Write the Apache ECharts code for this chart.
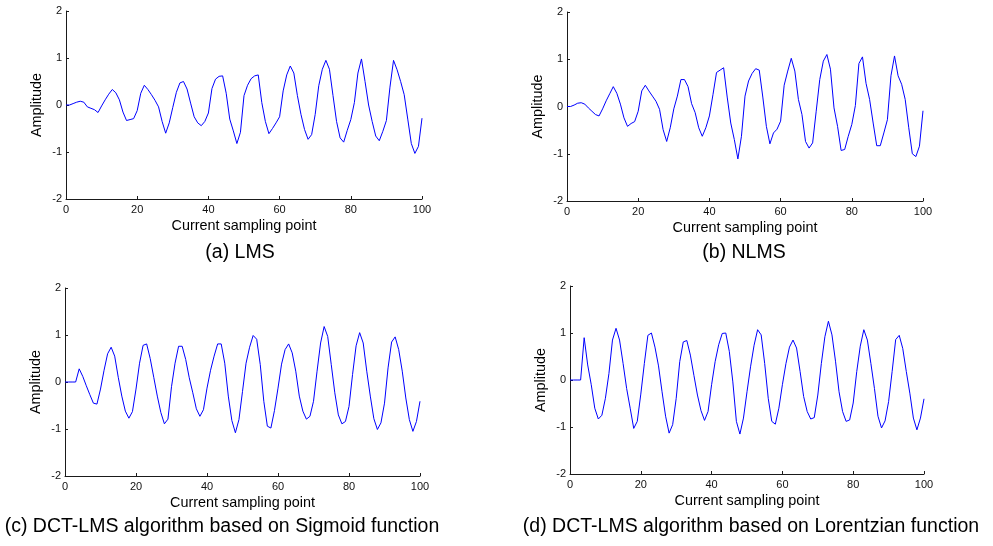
<!DOCTYPE html>
<html>
<head>
<meta charset="utf-8">
<script src="https://cdn.jsdelivr.net/npm/echarts@6/dist/echarts.min.js"></script>
<style>html,body{margin:0;padding:0;background:#fff;}#c{width:993px;height:546px;}</style>
</head>
<body>
<div id="c"></div>
<script>
// Sample values, x = 0..100
const lmsValues = [0,0,0.03,0.06,0.08,0.06,-0.04,-0.07,-0.1,-0.16,-0.02,0.11,0.23,0.33,0.26,0.11,-0.15,-0.33,-0.31,-0.29,-0.12,0.25,0.42,0.33,0.22,0.1,-0.04,-0.35,-0.6,-0.38,-0.05,0.27,0.47,0.5,0.34,0.04,-0.25,-0.38,-0.44,-0.35,-0.17,0.35,0.55,0.61,0.62,0.25,-0.3,-0.55,-0.82,-0.58,0.2,0.42,0.56,0.62,0.64,0.05,-0.35,-0.61,-0.5,-0.38,-0.25,0.3,0.64,0.83,0.68,0.2,-0.2,-0.52,-0.73,-0.63,-0.2,0.41,0.76,0.95,0.76,0.2,-0.35,-0.7,-0.79,-0.54,-0.31,0.05,0.68,0.98,0.5,0.0,-0.35,-0.66,-0.76,-0.56,-0.33,0.38,0.95,0.75,0.5,0.22,-0.3,-0.82,-1.03,-0.88,-0.28];
const nlmsValues = [0,0,0.03,0.07,0.08,0.05,-0.03,-0.1,-0.17,-0.2,-0.05,0.12,0.27,0.42,0.28,0.05,-0.24,-0.42,-0.36,-0.32,-0.1,0.33,0.45,0.33,0.22,0.11,-0.06,-0.49,-0.74,-0.45,-0.05,0.22,0.57,0.57,0.42,0.06,-0.13,-0.45,-0.63,-0.45,-0.2,0.25,0.72,0.77,0.82,0.2,-0.35,-0.7,-1.11,-0.63,0.22,0.54,0.7,0.8,0.77,0.2,-0.42,-0.79,-0.56,-0.48,-0.31,0.45,0.75,1.02,0.75,0.15,-0.17,-0.74,-0.88,-0.77,-0.1,0.57,0.96,1.1,0.79,-0.03,-0.42,-0.93,-0.91,-0.63,-0.38,0.02,0.91,1.05,0.49,0.15,-0.35,-0.83,-0.83,-0.56,-0.28,0.65,1.07,0.65,0.47,0.15,-0.45,-1.0,-1.06,-0.84,-0.09];
const sigmoidValues = [0,0,0,0,0.28,0.12,-0.08,-0.27,-0.45,-0.47,-0.15,0.25,0.6,0.74,0.55,0.1,-0.3,-0.62,-0.77,-0.63,-0.15,0.4,0.78,0.81,0.5,0.1,-0.3,-0.65,-0.89,-0.79,-0.1,0.4,0.76,0.76,0.48,0.09,-0.23,-0.57,-0.73,-0.59,-0.13,0.25,0.55,0.81,0.81,0.4,-0.3,-0.82,-1.08,-0.8,-0.2,0.4,0.74,0.99,0.91,0.37,-0.41,-0.94,-0.98,-0.61,-0.13,0.38,0.69,0.81,0.62,0.23,-0.3,-0.62,-0.79,-0.73,-0.41,0.23,0.83,1.18,0.97,0.37,-0.23,-0.7,-0.89,-0.84,-0.52,0.16,0.77,1.05,0.83,0.23,-0.3,-0.78,-1.01,-0.87,-0.45,0.3,0.85,0.96,0.69,0.23,-0.34,-0.8,-1.05,-0.84,-0.41];
const lorentzValues = [0,0,0,0,0.9,0.32,-0.1,-0.6,-0.83,-0.75,-0.39,0.14,0.85,1.1,0.85,0.35,-0.18,-0.6,-1.03,-0.88,-0.3,0.35,0.95,1.0,0.7,0.3,-0.25,-0.77,-1.13,-0.95,-0.39,0.39,0.81,0.84,0.53,0.1,-0.32,-0.65,-0.86,-0.67,-0.1,0.39,0.75,0.99,1.0,0.61,-0.04,-0.88,-1.15,-0.81,-0.25,0.28,0.74,1.07,0.96,0.35,-0.39,-0.88,-0.94,-0.6,-0.1,0.35,0.7,0.85,0.68,0.18,-0.35,-0.67,-0.83,-0.8,-0.32,0.35,0.92,1.25,0.96,0.4,-0.25,-0.67,-0.88,-0.85,-0.49,0.18,0.72,1.07,0.85,0.35,-0.18,-0.77,-1.02,-0.87,-0.46,0.18,0.86,0.95,0.67,0.18,-0.28,-0.81,-1.06,-0.81,-0.4];
const xTicks = [0, 20, 40, 60, 80, 100];
const yTicks = [-2, -1, 0, 1, 2];
const xName = 'Current sampling point';
const yName = 'Amplitude';
const captions = ['(a) LMS', '(b) NLMS', '(c) DCT-LMS algorithm based on Sigmoid function', '(d) DCT-LMS algorithm based on Lorentzian function'];

const panels = [lmsValues, nlmsValues, sigmoidValues, lorentzValues];
const grids = [
  {left: 66, top: 11, width: 356, height: 188},
  {left: 567, top: 12, width: 356, height: 189},
  {left: 65, top: 288, width: 355, height: 188},
  {left: 570, top: 286, width: 354, height: 188}
];
const captionPos = [[240, 253], [744, 253], [222, 527], [751, 527]];
const FONT = '"Liberation Sans", Arial, sans-serif';
const axisCol = '#1a1a1a';

const chart = echarts.init(document.getElementById('c'), null, {renderer: 'canvas'});
chart.setOption({
  animation: false,
  backgroundColor: '#ffffff',
  grid: grids.map(g => Object.assign({containLabel: false}, g)),
  xAxis: grids.map((g, i) => ({
    type: 'value', gridIndex: i, min: xTicks[0], max: xTicks[xTicks.length - 1], interval: 20,
    name: xName, nameLocation: 'middle', nameGap: 20,
    nameTextStyle: {fontFamily: FONT, fontSize: 14.4, color: '#000'},
    axisLine: {onZero: false, lineStyle: {color: axisCol, width: 1}},
    axisTick: {inside: true, length: 3, lineStyle: {color: axisCol}},
    axisLabel: {fontFamily: FONT, fontSize: 11, color: '#111', margin: 5},
    splitLine: {show: false}
  })),
  yAxis: grids.map((g, i) => ({
    type: 'value', gridIndex: i, min: yTicks[0], max: yTicks[yTicks.length - 1], interval: 1,
    name: yName, nameLocation: 'middle', nameGap: 22,
    nameTextStyle: {fontFamily: FONT, fontSize: 14.4, color: '#000'},
    axisLine: {onZero: false, lineStyle: {color: axisCol, width: 1}},
    axisTick: {inside: true, length: 3, lineStyle: {color: axisCol}},
    axisLabel: {fontFamily: FONT, fontSize: 11, color: '#111', margin: 4},
    splitLine: {show: false}
  })),
  series: panels.map((vals, i) => ({
    type: 'line', xAxisIndex: i, yAxisIndex: i, showSymbol: false, symbol: 'none',
    lineStyle: {color: '#0000ff', width: 1}, itemStyle: {color: '#0000ff'},
    data: vals.map((v, k) => [k, v])
  })),
  graphic: captions.map((t, i) => ({
    type: 'text',
    x: captionPos[i][0],
    y: captionPos[i][1],
    style: {text: t, font: '19.5px ' + FONT, fill: '#000', align: 'center', verticalAlign: 'middle'}
  }))
});
</script>
</body>
</html>
